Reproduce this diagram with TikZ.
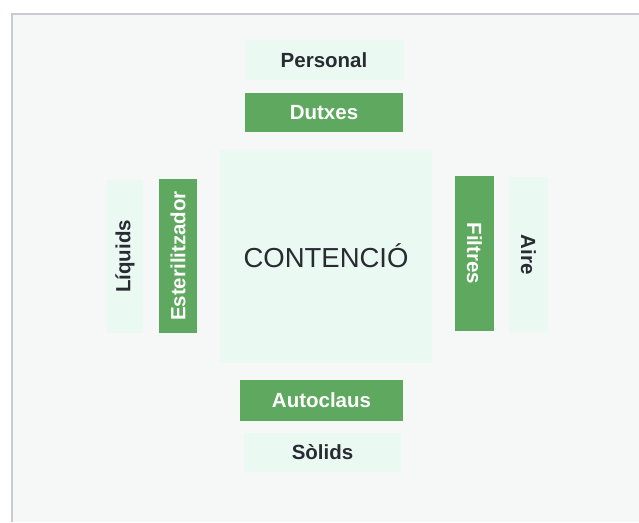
\documentclass[tikz,border=0pt]{standalone}
\usepackage{fontspec}
\setmainfont{Liberation Sans}
\definecolor{bggray}{RGB}{246,247,247}
\definecolor{framegray}{RGB}{198,203,212}
\definecolor{boxgreen}{RGB}{95,168,95}
\definecolor{mint}{RGB}{235,249,243}
\definecolor{txtdark}{RGB}{40,44,50}
\begin{document}
\begin{tikzpicture}[x=1pt,y=-1pt,
  greenbox/.style={fill=boxgreen,draw=none,inner sep=0pt,text=white,font=\fontsize{20.5}{20.5}\selectfont\bfseries},
  mintbox/.style={fill=mint,draw=none,inner sep=0pt,text=txtdark,font=\fontsize{20.5}{20.5}\selectfont\bfseries}]
\useasboundingbox (0,0) rectangle (639,522);
\fill[white] (0,0) rectangle (639,522);
\fill[bggray] (12,14) rectangle (639,522);
\draw[framegray,line width=1.2pt] (12,522) -- (12,14) -- (639,14);
% centre
\node[fill=mint,minimum width=212pt,minimum height=213pt,inner sep=0pt] (centre) at (326,256.5) {};
\node[text=txtdark,font=\fontsize{27.5}{27.5}\selectfont] (contencio) at (326,256) {CONTENCIÓ};
% top
\node[mintbox,minimum width=159pt,minimum height=40pt] (personal) at (324,60) {Personal};
\node[greenbox,minimum width=158pt,minimum height=39pt] (dutxes) at (324,112.5) {Dutxes};
% bottom
\node[greenbox,minimum width=163pt,minimum height=41pt] (autoclaus) at (321.5,400.5) {Autoclaus};
\node[mintbox,minimum width=157pt,minimum height=39pt] (solids) at (322.5,452.5) {Sòlids};
% left
\node[mintbox,rotate=90,minimum width=153pt,minimum height=36pt] (liquids) at (125,256.5) {Líquids};
\node[greenbox,rotate=90,minimum width=154pt,minimum height=38pt] (esteril) at (178,256) {Esterilitzador};
% right
\node[greenbox,rotate=-90,minimum width=155pt,minimum height=39pt] (filtres) at (474.5,253.5) {Filtres};
\node[mintbox,rotate=-90,minimum width=155pt,minimum height=39pt] (aire) at (528.5,254.5) {Aire};
\end{tikzpicture}
\end{document}
